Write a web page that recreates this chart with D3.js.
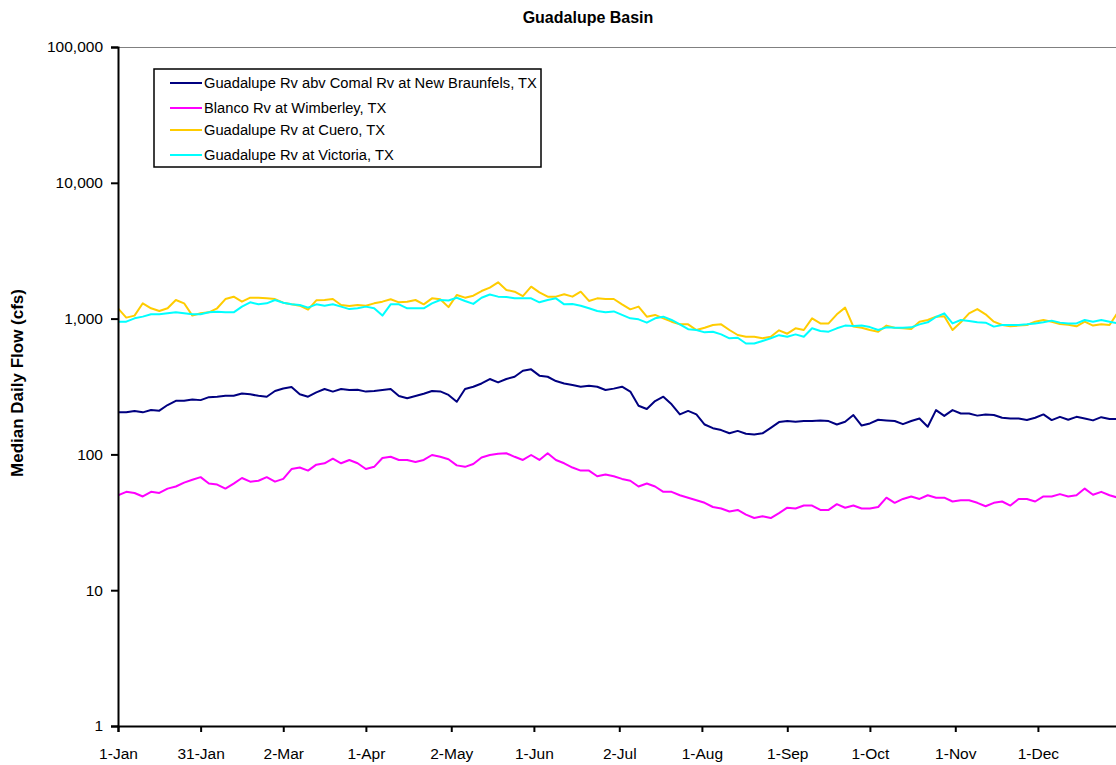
<!DOCTYPE html>
<html>
<head>
<meta charset="utf-8">
<script src="https://cdn.jsdelivr.net/npm/d3@7"></script>
<style>
  html, body { margin: 0; padding: 0; background: #fff; }
  svg { display: block; font-family: "Liberation Sans", Arial, sans-serif; }
</style>
</head>
<body>
<svg id="chart" width="1116" height="765"></svg>
<script>
// ---- Data ----
const title = "Guadalupe Basin";
const yTitle = "Median Daily Flow (cfs)";

// day-of-year index (0 = 1-Jan), sampled every 3 days
const days = d3.range(0, 364, 3);

const seriesNames = [
  "Guadalupe Rv abv Comal Rv at New Braunfels, TX",
  "Blanco Rv at Wimberley, TX",
  "Guadalupe Rv at Cuero, TX",
  "Guadalupe Rv at Victoria, TX"
];
const seriesColors = ["#000080", "#FF00FF", "#FFCC00", "#00FFFF"];

const newBraunfels = [
  204, 204, 209, 204, 212, 210, 231, 248, 248, 254, 251, 264, 266, 270, 270, 281, 277, 270, 266, 293, 306,
  313, 277, 266, 286, 303, 290, 303, 298, 299, 290, 293, 298, 303, 269, 259, 269, 280, 293, 291, 274,
  244, 303, 315, 333, 359, 339, 359, 373, 413, 423, 380, 373, 347, 333, 324, 315, 320, 315, 298, 305,
  315, 290, 228, 216, 247, 266, 234, 197, 209, 197, 166, 156, 151, 143, 149, 142, 140, 143, 157, 173,
  176, 174, 176, 176, 178, 176, 166, 174, 195, 163, 169, 180, 178, 176, 167, 176, 184, 160, 212, 192,
  212, 200, 200, 193, 197, 195, 186, 184, 184, 179, 186, 197, 179, 189, 180, 189, 184, 178, 188, 182,
  182
];
const wimberley = [
  50, 53, 52, 49, 53, 52, 56, 58, 62, 65, 68, 61, 60, 56, 61, 67, 63, 64, 68, 63, 66,
  78, 80, 76, 84, 86, 93, 86, 91, 86, 78, 81, 94, 96, 91, 91, 88, 91, 99, 96, 92,
  83, 81, 85, 95, 99, 101, 102, 96, 91, 99, 91, 102, 91, 86, 80, 76, 76, 69, 71, 69,
  66, 64, 58, 61, 58, 53, 53, 50, 48, 46, 44, 41, 40, 38, 39, 36, 34, 35, 34, 37,
  40.5, 40, 42, 42, 39, 39, 43, 40.5, 42, 40, 40, 41, 48, 44, 47, 49, 47, 50, 48, 48,
  45, 46, 46, 44, 41.5, 44, 45, 42, 47, 47, 45, 49, 49, 51, 49, 50, 56, 50.5, 53, 50,
  48
];
const cuero = [
  1191, 1017, 1052, 1296, 1191, 1138, 1191, 1371, 1296, 1052, 1094, 1112, 1191, 1393, 1450, 1333, 1425, 1425, 1410, 1393, 1310,
  1274, 1245, 1164, 1364, 1371, 1394, 1260, 1238, 1260, 1245, 1295, 1333, 1387, 1318, 1333, 1371, 1274, 1410, 1387, 1215,
  1492, 1426, 1475, 1596, 1690, 1849, 1624, 1578, 1466, 1718, 1560, 1451, 1451, 1510, 1451, 1578, 1349, 1410, 1394, 1394,
  1274, 1170, 1225, 1033, 1064, 1005, 949, 907, 907, 824, 857, 897, 907, 824, 757, 736, 736, 716, 736, 820,
  774, 848, 824, 1005, 922, 922, 1075, 1205, 873, 857, 824, 801, 888, 857, 848, 838, 949, 977, 1033, 1040,
  824, 939, 1094, 1175, 1075, 949, 897, 877, 888, 897, 949, 977, 949, 912, 902, 877, 949, 888, 907, 897,
  1112
];
const victoria = [
  949, 949, 1005, 1034, 1076, 1076, 1094, 1112, 1094, 1076, 1076, 1112, 1125, 1112, 1112, 1225, 1318, 1275, 1296, 1371, 1310,
  1274, 1260, 1205, 1274, 1245, 1274, 1225, 1175, 1191, 1225, 1191, 1052, 1274, 1274, 1191, 1191, 1191, 1295, 1371, 1360,
  1425, 1349, 1283, 1425, 1505, 1451, 1443, 1410, 1410, 1410, 1318, 1371, 1410, 1274, 1283, 1245, 1191, 1138, 1112, 1130,
  1064, 1005, 988, 934, 1005, 1033, 977, 907, 835, 824, 792, 801, 765, 716, 723, 655, 655, 684, 716, 755,
  736, 765, 736, 848, 811, 801, 848, 888, 883, 888, 866, 824, 862, 857, 857, 862, 907, 939, 1028, 1094,
  922, 977, 961, 939, 934, 873, 897, 897, 897, 907, 922, 939, 966, 934, 922, 922, 977, 949, 977, 949,
  922
];
const seriesValues = [newBraunfels, wimberley, cuero, victoria];

// axis ticks
const xTickDays = [0, 30, 60, 90, 121, 151, 182, 212, 243, 273, 304, 334];
const xTickLabels = ["1-Jan", "31-Jan", "2-Mar", "1-Apr", "2-May", "1-Jun", "2-Jul", "1-Aug", "1-Sep", "1-Oct", "1-Nov", "1-Dec"];
const yTickValues = [1, 10, 100, 1000, 10000, 100000];

// ---- Layout ----
const W = 1116, H = 765;
const plot = { left: 118, top: 47, bottom: 726, right: 1123.3 };

const svg = d3.select("#chart");
svg.append("rect").attr("width", W).attr("height", H).attr("fill", "#fff");

const x = d3.scaleLinear().domain([0, 365]).range([plot.left, plot.right]);
const y = d3.scaleLog().domain([1, 100000]).range([plot.bottom, plot.top]);

// top border of plot area (grey)
svg.append("line")
  .attr("x1", plot.left).attr("x2", W + 10)
  .attr("y1", plot.top + 0.5).attr("y2", plot.top + 0.5)
  .attr("stroke", "#808080").attr("stroke-width", 1);

// clip for series
svg.append("clipPath").attr("id", "clip")
  .append("rect").attr("x", plot.left).attr("y", plot.top)
  .attr("width", plot.right - plot.left).attr("height", plot.bottom - plot.top);

const line = d3.line().x((d, i) => x(days[i])).y(d => y(d));
const gSeries = svg.append("g").attr("clip-path", "url(#clip)");
seriesValues.forEach((vals, k) => {
  gSeries.append("path")
    .datum(vals)
    .attr("fill", "none")
    .attr("stroke", seriesColors[k])
    .attr("stroke-width", 2)
    .attr("stroke-linejoin", "round")
    .attr("d", line);
});

// Y axis
const yAxis = d3.axisLeft(y)
  .tickValues(yTickValues)
  .tickFormat(d3.format(","))
  .tickSize(7)
  .tickPadding(8);
const gy = svg.append("g").attr("transform", `translate(${plot.left},0)`).call(yAxis);
gy.select(".domain").attr("stroke", "#000").attr("stroke-width", 2);
gy.selectAll(".tick line").attr("stroke", "#000").attr("stroke-width", 2);
gy.selectAll(".tick text").attr("font-size", 15.5).attr("fill", "#000")
  .attr("font-family", "Liberation Sans, Arial, sans-serif");

// X axis
const xAxis = d3.axisBottom(x)
  .tickValues(xTickDays)
  .tickFormat((d, i) => xTickLabels[i])
  .tickSize(6)
  .tickPadding(16);
const gx = svg.append("g").attr("transform", `translate(0,${plot.bottom})`).call(xAxis);
gx.select(".domain").attr("stroke", "#000").attr("stroke-width", 2);
gx.selectAll(".tick line").attr("stroke", "#000").attr("stroke-width", 2);
gx.selectAll(".tick text").attr("font-size", 15.5).attr("fill", "#000")
  .attr("font-family", "Liberation Sans, Arial, sans-serif");

// Title
svg.append("text")
  .attr("x", 588).attr("y", 23)
  .attr("text-anchor", "middle")
  .attr("font-size", 16).attr("font-weight", "bold")
  .text(title);

// Y-axis title
svg.append("text")
  .attr("transform", "translate(23,383) rotate(-90)")
  .attr("text-anchor", "middle")
  .attr("font-size", 17).attr("font-weight", "bold")
  .text(yTitle);

// Legend
const legend = svg.append("g");
legend.append("rect")
  .attr("x", 154).attr("y", 69).attr("width", 387).attr("height", 98)
  .attr("fill", "#fff").attr("stroke", "#000").attr("stroke-width", 1.5);
const legendRowsY = [83, 108, 130, 155];
seriesNames.forEach((name, k) => {
  const ly = legendRowsY[k];
  legend.append("line")
    .attr("x1", 170).attr("x2", 202).attr("y1", ly).attr("y2", ly)
    .attr("stroke", seriesColors[k]).attr("stroke-width", 2);
  legend.append("text")
    .attr("x", 204).attr("y", ly).attr("dy", "0.35em")
    .attr("font-size", 14.7).attr("fill", "#000")
    .text(name);
});
</script>
</body>
</html>
